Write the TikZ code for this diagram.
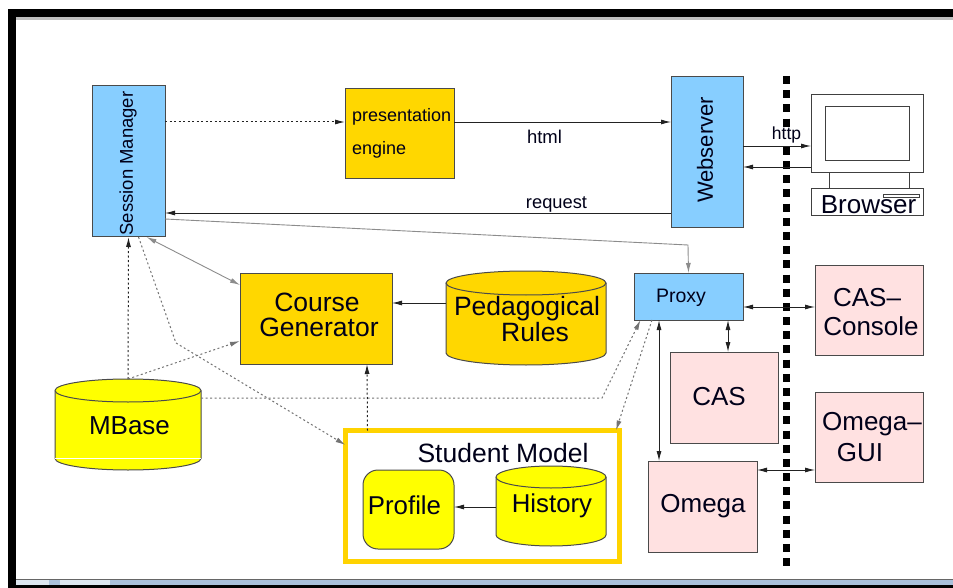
\documentclass[tikz,border=0pt]{standalone}
\usepackage{fontspec}
\setmainfont{Liberation Sans}
\usetikzlibrary{arrows.meta}
\newcommand\fsz[1]{\fontsize{#1}{#1}\selectfont}
% cylinder drawn round an invisible named node: #1 name, #2 half height of the end ellipses, #3 half width, #4 colour
\newcommand\cylbody[4]{%
  \path[draw=edge,line width=1pt,fill=#4]
    ([yshift=-#2pt]#1.north west) arc[start angle=180,end angle=0,x radius=#3pt,y radius=#2pt]
    -- ([yshift=#2pt]#1.south east) arc[start angle=360,end angle=180,x radius=#3pt,y radius=#2pt]
    -- cycle;
  \path[draw=edge,line width=1pt,fill=#4]
    ([yshift=-#2pt]#1.north west) arc[start angle=180,end angle=360,x radius=#3pt,y radius=#2pt];
}
\definecolor{skyb}{HTML}{87CEFF}
\definecolor{goldb}{HTML}{FFD700}
\definecolor{yell}{HTML}{FFFF00}
\definecolor{pinkb}{HTML}{FFE1E1}
\definecolor{edge}{HTML}{4A4A4A}
\definecolor{conn}{HTML}{222222}
\definecolor{tbar}{HTML}{A9C0DA}
\definecolor{tabc}{HTML}{DDE6F0}
\tikzset{
  x=1pt,y=-1pt,
  box/.style={draw=edge,line width=1pt,inner sep=0pt,outer sep=0pt,text=black!90!blue},
  bluebox/.style={box,fill=skyb},
  goldbox/.style={box,fill=goldb},
  pinkbox/.style={box,fill=pinkb},
  cylslot/.style={inner sep=0pt,outer sep=0pt},
  label text/.style={inner sep=0pt,outer sep=0pt,text=black!90!blue},
  tip/.style={-{Latex[length=10pt,width=5pt]}},
  bitip/.style={{Latex[length=10pt,width=5pt]}-{Latex[length=10pt,width=5pt]}},
  solidc/.style={draw=conn,line width=0.9pt},
  grayc/.style={draw=black!45,line width=0.9pt},
  dotc/.style={draw=conn,line width=1pt,dash pattern=on 2pt off 2.5pt},
  dotg/.style={draw=black!55,line width=1pt,dash pattern=on 2pt off 2.5pt},
}
\begin{document}
\begin{tikzpicture}
\useasboundingbox (0,0) rectangle (953,588);
\fill[white] (0,0) rectangle (953,588);
% screenshot frame
\fill[black!25] (16,17) rectangle (953,20);
\fill[black] (8,9) rectangle (953,17);
\fill[black] (8,9) rectangle (16,588);
\fill[black] (8,585) rectangle (953,588);
\fill[tbar] (16,579.5) rectangle (953,585);
\fill[tabc] (16,580) rectangle (49,585);
\fill[tabc] (60,580) rectangle (110,585);
\draw[black!60,line width=0.6pt] (16,579.5) -- (953,579.5);

% separator
\coordinate (sepT) at (786,76);
\coordinate (sepB) at (786,566);
\draw[black,line width=7pt,dash pattern=on 8pt off 6.18pt] (sepT) -- (sepB);

% main boxes
\node[bluebox,minimum width=73pt,minimum height=151pt] (sm) at (128.5,161.5) {};
\node[label text,rotate=90,font=\fsz{18.5}] (smt) at (128,163.5) {Session Manager};
\node[goldbox,minimum width=109pt,minimum height=90pt] (pe) at (399.5,134) {};
\node[label text,anchor=west,font=\fsz{18}] (pet1) at (352,117) {presentation};
\node[label text,anchor=west,font=\fsz{18}] (pet2) at (352,150) {engine};
\node[bluebox,minimum width=72pt,minimum height=151pt] (ws) at (707,152.5) {};
\node[label text,rotate=90,font=\fsz{22}] (wst) at (705,150) {Webserver};
\node[goldbox,minimum width=152pt,minimum height=91pt] (cg) at (316,318.5) {};
\node[label text,font=\fsz{26.5}] (cgt1) at (317,302) {Course};
\node[label text,font=\fsz{26.5}] (cgt2) at (319,327) {Generator};
\node[cylslot,minimum width=160pt,minimum height=94pt] (ped) at (526,318) {};
\cylbody{ped}{12}{80}{goldb}
\node[label text,font=\fsz{26.5}] (pedt1) at (527,309) {Pedagogical};
\node[label text,font=\fsz{26.5}] (pedt2) at (535,332) {Rules};
\node[cylslot,minimum width=146pt,minimum height=91pt] (mb) at (128,424.5) {};
\cylbody{mb}{11.5}{73}{yell}
\draw[white,line width=0.6pt] ([yshift=11.5pt]mb.south west) -- ([yshift=11.5pt]mb.south east);
\node[label text,font=\fsz{26}] (mbt) at (129.5,426) {MBase};

% student model
\node[draw=goldb!95!orange,line width=5.5pt,inner sep=0pt,outer sep=0pt,minimum width=274pt,minimum height=131pt] (st) at (482.5,496) {};
\node[label text,font=\fsz{26.5}] (stt) at (503,453) {Student Model};
\node[box,fill=yell,rounded corners=15pt,minimum width=91pt,minimum height=79pt] (pr) at (408.5,509.5) {};
\node[label text,font=\fsz{25.8}] (prt) at (404.5,505) {Profile};
\node[cylslot,minimum width=110pt,minimum height=80pt] (hi) at (551,506) {};
\cylbody{hi}{11}{55}{yell}
\node[label text,font=\fsz{25.8}] (hit) at (552,506) {History};

% right side
\node[bluebox,minimum width=109pt,minimum height=47pt] (px) at (688.5,296.5) {};
\node[label text,font=\fsz{19.5}] (pxt) at (681,297.5) {Proxy};
\node[pinkbox,minimum width=108pt,minimum height=91pt] (cas) at (724,397.5) {};
\node[label text,font=\fsz{26}] (cast) at (719,396.5) {CAS};
\node[pinkbox,minimum width=109pt,minimum height=91pt] (om) at (702.5,506.5) {};
\node[label text,font=\fsz{26}] (omt) at (703,506.5) {Omega};
\node[pinkbox,minimum width=108pt,minimum height=90pt] (cc) at (869,310) {};
\node[label text,font=\fsz{26}] (cct1) at (867,298) {CAS--};
\node[label text,font=\fsz{26}] (cct2) at (871,326) {Console};
\node[pinkbox,minimum width=108pt,minimum height=90pt] (og) at (869,437) {};
\node[label text,font=\fsz{26}] (ogt1) at (872,424.5) {Omega--};
\node[label text,font=\fsz{26}] (ogt2) at (860,452.5) {GUI};

% browser
\node[box,draw=black!75,fill=white,minimum width=112pt,minimum height=78pt] (mon) at (867,134) {};
\node[box,draw=black!75,fill=white,minimum width=84pt,minimum height=54pt] (scr) at (867,134) {};
\node[box,draw=black!75,fill=white,minimum width=112pt,minimum height=27pt] (bs) at (867,202.5) {};
\node[label text,font=\fsz{26}] (bst) at (868.5,205) {Browser};
\node[box,draw=black!75,fill=none,minimum width=36pt,minimum height=3pt] (slot) at (901.5,196.5) {};
\draw[draw=black!75,line width=1pt] ([xshift=-38pt]mon.south) -- ([xshift=-38pt]bs.north);
\draw[draw=black!75,line width=1pt] ([xshift=42pt]mon.south) -- ([xshift=42pt]bs.north);

% labels
\node[label text,font=\fsz{18.5}] (html) at (544.5,137) {html};
\node[label text,font=\fsz{18.3}] (req) at (556.5,204) {request};
\node[label text,fill=white,font=\fsz{17.5}] (http) at (786.5,135) {http};

% connectors
\draw[dotc,tip] ([yshift=39.5pt]sm.east) -- ([yshift=12pt]pe.west);
\draw[solidc,tip] ([yshift=12pt]pe.east) -- ([yshift=30.5pt]ws.west);
\draw[solidc,tip] ([yshift=-60.5pt]ws.west) -- ([yshift=-51.5pt]sm.east);
\draw[grayc,tip] ([yshift=-57.5pt]sm.east) -- (688,245) -- (px.north);
\draw[grayc,bitip] ([xshift=18pt]sm.south) -- ([yshift=33.5pt]cg.west);
\draw[dotc,tip] (mb.north) -- (sm.south);
\draw[dotg,tip] (mb.north) -- ([yshift=-22.5pt]cg.west);
\draw[dotg,tip] ([xshift=10pt]sm.south) -- (176,343) -- ([yshift=51pt]st.west);
\draw[dotg,tip] ([yshift=26.5pt]mb.east) -- (602,398) -- ([xshift=-48pt]px.south);
\draw[dotc,tip] ([xshift=-115pt]st.north) -- ([xshift=51pt]cg.south);
\draw[solidc,tip] ([yshift=15pt]ped.west) -- ([yshift=15.5pt]cg.east);
\draw[solidc,tip] ([yshift=-1pt]hi.west) -- ([yshift=2.5pt]pr.east);
\draw[dotg,tip] ([xshift=-36.5pt]px.south) -- ([xshift=133.5pt]st.north);
\draw[solidc,bitip] ([xshift=-29.5pt]px.south) -- ([xshift=-43.5pt]om.north);
\draw[solidc,bitip] ([xshift=39.5pt]px.south) -- ([xshift=4pt]cas.north);
\draw[solidc,bitip] ([yshift=-10.5pt]px.east) -- ([yshift=3pt]cc.west);
\draw[solidc,bitip] ([yshift=36.5pt]om.east) -- ([yshift=-33pt]og.west);
\draw[solidc,tip] ([yshift=6.5pt]ws.east) -- ([yshift=-12pt]mon.west);
\draw[solidc,tip] ([yshift=-33pt]mon.west) -- ([yshift=-14.5pt]ws.east);
\end{tikzpicture}
\end{document}
